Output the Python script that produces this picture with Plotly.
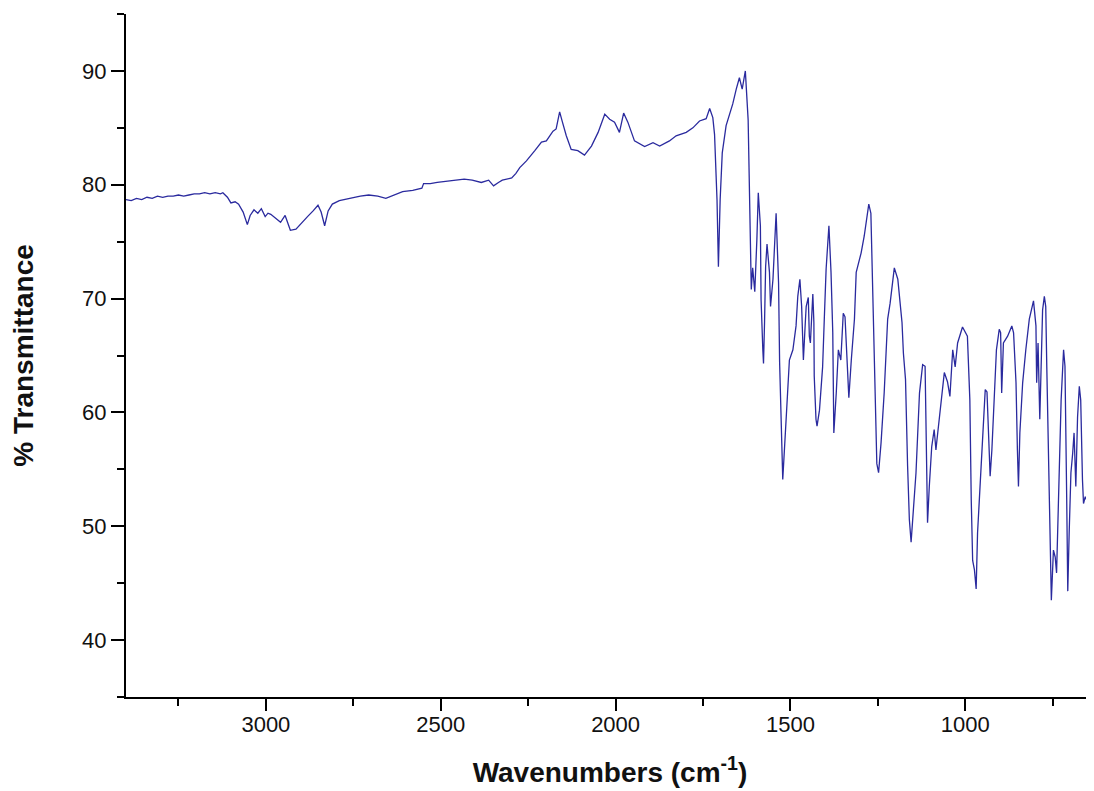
import plotly.graph_objects as go

# Wavenumber (cm-1) and % transmittance
wavenumber = [
    3400, 3385, 3370, 3355, 3340, 3325, 3310, 3295, 3280, 3265, 3250, 3235, 3220, 3205,
    3190, 3175, 3160, 3145, 3130, 3123, 3110, 3100, 3088, 3078, 3065, 3053, 3045, 3034,
    3023, 3013, 3002, 2994, 2986, 2970, 2958, 2945, 2938, 2930, 2914, 2900, 2881, 2865,
    2851, 2842, 2832, 2822, 2810, 2790, 2761, 2730, 2706, 2680, 2657, 2635, 2609, 2580,
    2554, 2549, 2530, 2510, 2480, 2460, 2433, 2410, 2384, 2363, 2349, 2335, 2324, 2297,
    2285, 2274, 2255, 2231, 2212, 2198, 2179, 2170, 2160, 2152, 2141, 2127, 2108, 2089,
    2069, 2050, 2031, 2017, 2003, 1989, 1977, 1965, 1946, 1917, 1893, 1874, 1846, 1827,
    1798, 1779, 1760, 1741, 1731, 1722, 1717, 1710, 1706, 1701, 1695, 1684, 1665, 1655,
    1646, 1638, 1629, 1621, 1615, 1612, 1608, 1602, 1596, 1592, 1586, 1584, 1579, 1577,
    1574, 1571, 1567, 1560, 1557, 1550, 1541, 1534, 1531, 1527, 1522, 1512, 1503, 1493,
    1484, 1479, 1473, 1468, 1465, 1463, 1457, 1455, 1449, 1446, 1443, 1436, 1433, 1432,
    1427, 1424, 1417, 1408, 1403, 1398, 1390, 1384, 1379, 1376, 1369, 1363, 1356, 1349,
    1344, 1336, 1333, 1326, 1317, 1312, 1298, 1289, 1276, 1270, 1263, 1257, 1253, 1248,
    1241, 1232, 1222, 1215, 1203, 1193, 1181, 1177, 1171, 1165, 1160, 1155, 1150, 1141,
    1131, 1122, 1115, 1112, 1108, 1103, 1096, 1089, 1084, 1081, 1069, 1060, 1051, 1044,
    1036, 1029, 1022, 1008, 994, 987, 983, 979, 974, 969, 965, 955, 949, 943,
    938, 933, 929, 924, 917, 911, 903, 899, 896, 891, 879, 867, 862, 855,
    851, 848, 844, 836, 827, 817, 805, 798, 796, 792, 787, 784, 779, 774,
    770, 767, 762, 757, 754, 748, 743, 739, 733, 726, 719, 715, 710, 707,
    703, 698, 693, 689, 684, 679, 674, 670, 665, 662, 657, 653,
]
transmittance = [
    78.7, 78.6, 78.8, 78.7, 78.9, 78.8, 79.0, 78.9, 79.0, 79.0, 79.1, 79.0, 79.1, 79.2,
    79.2, 79.3, 79.2, 79.3, 79.2, 79.3, 78.9, 78.4, 78.5, 78.3, 77.6, 76.5, 77.3, 77.8,
    77.5, 77.9, 77.2, 77.5, 77.4, 77.0, 76.7, 77.3, 76.6, 76.0, 76.1, 76.6, 77.2, 77.7,
    78.2, 77.6, 76.4, 77.7, 78.3, 78.6, 78.8, 79.0, 79.1, 79.0, 78.8, 79.1, 79.4, 79.5,
    79.7, 80.1, 80.1, 80.2, 80.3, 80.4, 80.5, 80.4, 80.2, 80.4, 79.9, 80.2, 80.4, 80.6,
    81.0, 81.5, 82.1, 83.0, 83.75, 83.85, 84.7, 84.9, 86.4, 85.5, 84.3, 83.1, 83.0, 82.6,
    83.4, 84.6, 86.2, 85.75, 85.5, 84.6, 86.3, 85.5, 83.85, 83.35, 83.7, 83.4, 83.85, 84.3,
    84.6, 85.0, 85.6, 85.8, 86.7, 85.9, 84.4, 78.7, 72.8, 78.7, 82.8, 85.2, 87.1, 88.4,
    89.4, 88.4, 90.0, 85.7, 75.5, 70.8, 72.7, 70.6, 75.2, 79.3, 76.4, 69.9, 65.5, 64.3,
    68.0, 72.8, 74.8, 72.3, 69.3, 71.7, 77.5, 71.4, 64.4, 59.1, 54.1, 59.6, 64.6, 65.5,
    67.6, 70.2, 71.7, 69.3, 66.7, 64.6, 68.2, 69.3, 70.1, 66.7, 66.1, 70.4, 67.9, 63.2,
    59.4, 58.8, 60.2, 64.0, 68.4, 72.6, 76.4, 72.3, 67.0, 58.2, 61.7, 65.5, 64.6, 68.7,
    68.4, 62.3, 61.3, 64.6, 68.2, 72.3, 74.0, 75.5, 78.3, 77.5, 67.9, 61.1, 55.5, 54.7,
    57.3, 61.7, 68.2, 69.6, 72.7, 71.7, 67.9, 65.2, 62.9, 55.3, 50.6, 48.6, 50.9, 54.7,
    61.7, 64.2, 64.05, 58.2, 50.3, 53.5, 57.0, 58.5, 56.7, 57.6, 61.1, 63.5, 62.7, 61.4,
    65.5, 64.0, 66.1, 67.5, 66.7, 61.1, 52.3, 47.0, 46.2, 44.5, 49.4, 55.3, 59.6, 62.0,
    61.8, 58.2, 54.4, 56.7, 61.1, 65.5, 67.3, 67.0, 61.7, 66.1, 66.7, 67.6, 67.0, 62.6,
    56.7, 53.5, 58.2, 62.6, 65.5, 68.2, 69.8, 67.6, 62.6, 66.1, 59.4, 62.6, 69.0, 70.2,
    69.3, 64.0, 55.3, 47.6, 43.5, 47.9, 47.3, 45.9, 52.3, 61.1, 65.5, 64.05, 52.3, 44.3,
    49.4, 54.7, 56.4, 58.2, 53.5, 59.6, 62.3, 61.1, 54.1, 52.0, 52.6, 52.3,
]

x_tickvals = [3000, 2500, 2000, 1500, 1000]
y_tickvals = [40, 50, 60, 70, 80, 90]

fig = go.Figure()
fig.add_trace(go.Scatter(
    x=wavenumber, y=transmittance, mode="lines",
    line=dict(color="#2a2a9e", width=1.3),
    showlegend=False, hoverinfo="x+y",
))

tick_font = dict(family="Liberation Sans, Arial, sans-serif", size=22, color="#111111")
title_font = dict(family="Liberation Sans, Arial, sans-serif", size=28, color="#111111")

# the page body has an 8px default margin, so the figure is sized/margined to compensate
fig.update_layout(
    width=1086, height=783,
    margin=dict(l=118, r=0, t=6, b=94),
    paper_bgcolor="white", plot_bgcolor="white",
    xaxis=dict(
        range=[3400, 632], automargin=False,
        tickvals=x_tickvals, ticktext=[str(v) for v in x_tickvals],
        ticks="outside", ticklen=12, tickwidth=2, tickcolor="black",
        minor=dict(ticks="outside", ticklen=7, tickwidth=2, tickcolor="black",
                   tick0=3250, dtick=500, showgrid=False),
        showline=True, linecolor="black", linewidth=2,
        showgrid=False, zeroline=False,
        tickfont=tick_font, ticklabelstandoff=-5,
        title=dict(text="<b>Wavenumbers (cm<sup>-1</sup>)</b>", font=title_font, standoff=26),
    ),
    yaxis=dict(
        range=[35, 95], automargin=False,
        tickvals=y_tickvals, ticktext=[str(v) for v in y_tickvals],
        ticks="outside", ticklen=13, tickwidth=2, tickcolor="black",
        minor=dict(ticks="outside", ticklen=7, tickwidth=2, tickcolor="black",
                   tick0=35, dtick=10, showgrid=False),
        showline=True, linecolor="black", linewidth=2,
        showgrid=False, zeroline=False,
        tickfont=tick_font, ticklabelstandoff=0,
        title=dict(text="<b>% Transmittance</b>", font=title_font, standoff=42),
    ),
)

fig.write_html("out.html")
